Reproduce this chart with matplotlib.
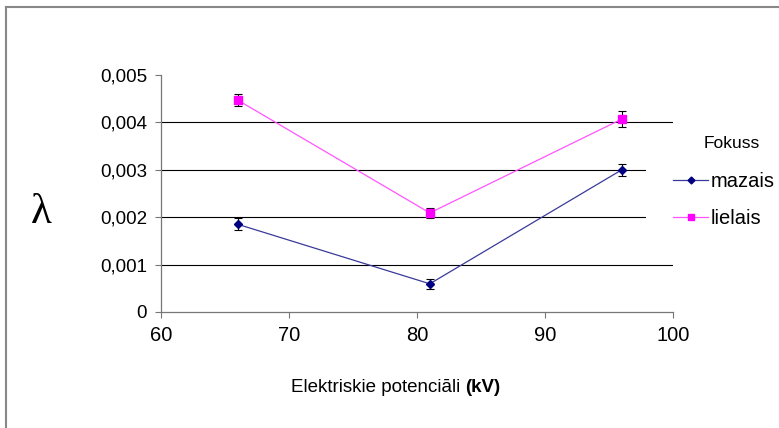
import matplotlib
matplotlib.use('Agg')
import matplotlib.pyplot as plt
import matplotlib.ticker as plticker
from matplotlib.lines import Line2D
from matplotlib.patches import Rectangle

# dati
spriegums = [66, 81, 96]
mazais = [0.00185, 0.000595, 0.0030]
mazais_err = [0.000125, 0.0001, 0.00013]
lielais = [0.00447, 0.00209, 0.00407]
lielais_err = [0.00012, 0.0001, 0.00016]
y_ticks = [0, 0.001, 0.002, 0.003, 0.004, 0.005]
x_ticks = [60, 70, 80, 90, 100]

plt.rcParams['font.family'] = ['Liberation Sans', 'DejaVu Sans']

W, H = 779, 428
fig = plt.figure(figsize=(W/100, H/100), dpi=100)
ax = fig.add_axes([161/W, 1 - 312/H, 512/W, 237/H])

ax.errorbar(spriegums, mazais, yerr=mazais_err, color='#3a3a9a', lw=0.9,
            marker='D', markersize=4.5, markerfacecolor='#000080',
            markeredgecolor='#000080', ecolor='black', elinewidth=0.8,
            capsize=3, capthick=0.8, zorder=3)
ax.errorbar(spriegums, lielais, yerr=lielais_err, color='#ff55ff', lw=0.9,
            marker='s', markersize=5.5, markerfacecolor='#ff00ff',
            markeredgecolor='#ff00ff', ecolor='black', elinewidth=0.8,
            capsize=3, capthick=0.8, zorder=3)

ax.set_xlim(60, 100)
ax.set_ylim(0, 0.005)
ax.set_xticks(x_ticks)
ax.set_yticks(y_ticks)
ax.yaxis.set_major_formatter(plticker.FuncFormatter(
    lambda v, p: '0' if v == 0 else ('%.3f' % v).replace('.', ',')))
ax.tick_params(axis='both', direction='out', length=4, width=0.8,
               color='#777777', pad=6)
ax.tick_params(axis='y', labelsize=13.5)
ax.tick_params(axis='x', labelsize=14.5)

ax.yaxis.grid(True, color='black', lw=0.8)
ax.set_axisbelow(True)
for gl, v in zip(ax.get_ygridlines(), y_ticks):
    if v == 0 or v == 0.005:
        gl.set_visible(False)

for s in ['top', 'right']:
    ax.spines[s].set_visible(False)
for s in ['left', 'bottom']:
    ax.spines[s].set_color('#777777')
    ax.spines[s].set_linewidth(0.9)

# lambda ass nosaukums
fig.text(41/W, 1 - 213/H, 'λ', fontsize=31, family=['Liberation Serif', 'DejaVu Serif'],
         ha='center', va='center')

# x ass nosaukums ar treknu (kV)
t1 = fig.text(291/W, 1 - 387/H, 'Elektriskie potenciāli ', fontsize=13.5,
              ha='left', va='center')
fig.canvas.draw()
bb = t1.get_window_extent()
fig.text(bb.x1/W, 1 - 387/H, '(kV)', fontsize=13.5, fontweight='bold',
         ha='left', va='center')

# leģendas fons, kas aizsedz režģa līnijas
fig.add_artist(Rectangle((646/W, 1 - 250/H), (W - 646)/W, 115/H,
                         transform=fig.transFigure, facecolor='white',
                         edgecolor='none', zorder=2))

fig.text(732/W, 1 - 143/H, 'Fokuss', fontsize=12.5, ha='center', va='center', zorder=6)

handles = [
    Line2D([], [], color='#3a3a9a', lw=0.9, marker='D', markersize=3.5,
           markerfacecolor='#000080', markeredgecolor='#000080'),
    Line2D([], [], color='#ff55ff', lw=0.9, marker='s', markersize=4.5,
           markerfacecolor='#ff00ff', markeredgecolor='#ff00ff'),
]
leg = fig.legend(handles, ['mazais', 'lielais'], loc='upper left',
                 bbox_to_anchor=(673/W, 1 - 172/H), frameon=False,
                 fontsize=14.5, handlelength=1.75, borderaxespad=0,
                 handletextpad=0.1, labelspacing=0.9, borderpad=0)
leg.set_zorder(5)

# rāmis ap diagrammu
fig.add_artist(Line2D([6/W, 6/W], [0, 1 - 7/H], color='#888888', lw=1.5))
fig.add_artist(Line2D([6/W, 1], [1 - 7/H, 1 - 7/H], color='#888888', lw=1.5))

fig.savefig('out.png', dpi=100)
